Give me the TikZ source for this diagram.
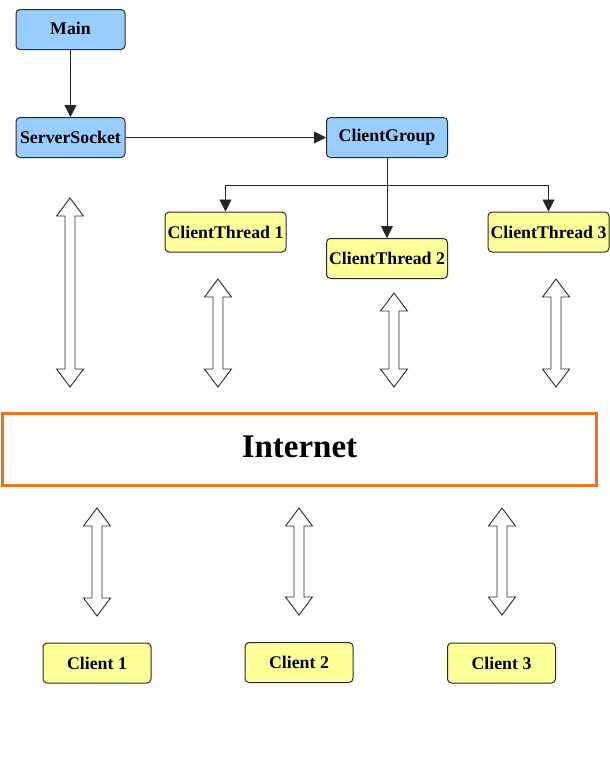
\documentclass[tikz,border=0pt]{standalone}
\usepackage{fontspec}
\setmainfont{Liberation Serif}
\usetikzlibrary{arrows.meta}
\definecolor{boxblue}{HTML}{99CCFF}
\definecolor{boxyellow}{HTML}{FFFF99}
\definecolor{netorange}{HTML}{F07020}
\definecolor{edgegray}{HTML}{2A2A2A}
\newcommand{\dblarr}[3]{%
  \draw[dblshape] (#1,#2) -- ({#1+13.5},{#2+18}) -- ({#1+5},{#2+18}) -- ({#1+5},{#3-18})
    -- ({#1+13.5},{#3-18}) -- (#1,#3) -- ({#1-13.5},{#3-18}) -- ({#1-5},{#3-18})
    -- ({#1-5},{#2+18}) -- ({#1-13.5},{#2+18}) -- cycle;}
\begin{document}
\begin{tikzpicture}[x=1pt,y=-1pt,
  box/.style={draw=edgegray,line width=1pt,rounded corners=4pt,minimum height=40pt,inner sep=0pt,
    font=\fontsize{17.8}{19}\selectfont\bfseries},
  bluebox/.style={box,fill=boxblue,minimum width=109pt},
  ctbox/.style={box,fill=boxyellow,minimum width=121pt},
  clbox/.style={box,fill=boxyellow,minimum width=108pt},
  conn/.style={draw=black!85,line width=0.9pt,-{Triangle[length=12pt,width=12pt]}},
  dblshape/.style={draw=edgegray,fill=white,line width=0.9pt,line join=miter}]
\useasboundingbox (0,0) rectangle (610,774);
\node[bluebox] (main) at (70.5,29.5) {\raisebox{2pt}{Main}};
\node[bluebox] (ss) at (70.5,137.5) {ServerSocket};
\node[bluebox,minimum width=121pt] (cg) at (387,137.5) {ClientGroup};
\node[ctbox] (ct1) at (225.5,232) {ClientThread 1};
\node[ctbox] (ct2) at (387,258.5) {ClientThread 2};
\node[ctbox] (ct3) at (548.5,232) {ClientThread 3};
\node[draw=netorange,line width=2.5pt,minimum width=594pt,minimum height=72pt,inner sep=0pt,
  font=\fontsize{33}{36}\selectfont\bfseries] (net) at (299.5,449.5) {\raisebox{6pt}{Internet}};
\node[clbox] (c1) at (97,663) {Client 1};
\node[clbox] (c2) at (299,662.5) {Client 2};
\node[clbox] (c3) at (501.5,663) {Client 3};
\coordinate (bar) at (387,185);
\draw[conn] (main) -- (ss);
\draw[conn] (ss) -- (cg);
\draw[conn] (cg) -- (ct2);
\draw[conn] (bar) -| (ct1.north);
\draw[conn] (bar) -| (ct3.north);
\dblarr{70}{198}{387}
\dblarr{218}{279}{387}
\dblarr{394}{293}{387}
\dblarr{556}{279}{387}
\dblarr{97}{508}{616}
\dblarr{299}{508}{615}
\dblarr{502}{508}{615}
\end{tikzpicture}
\end{document}
